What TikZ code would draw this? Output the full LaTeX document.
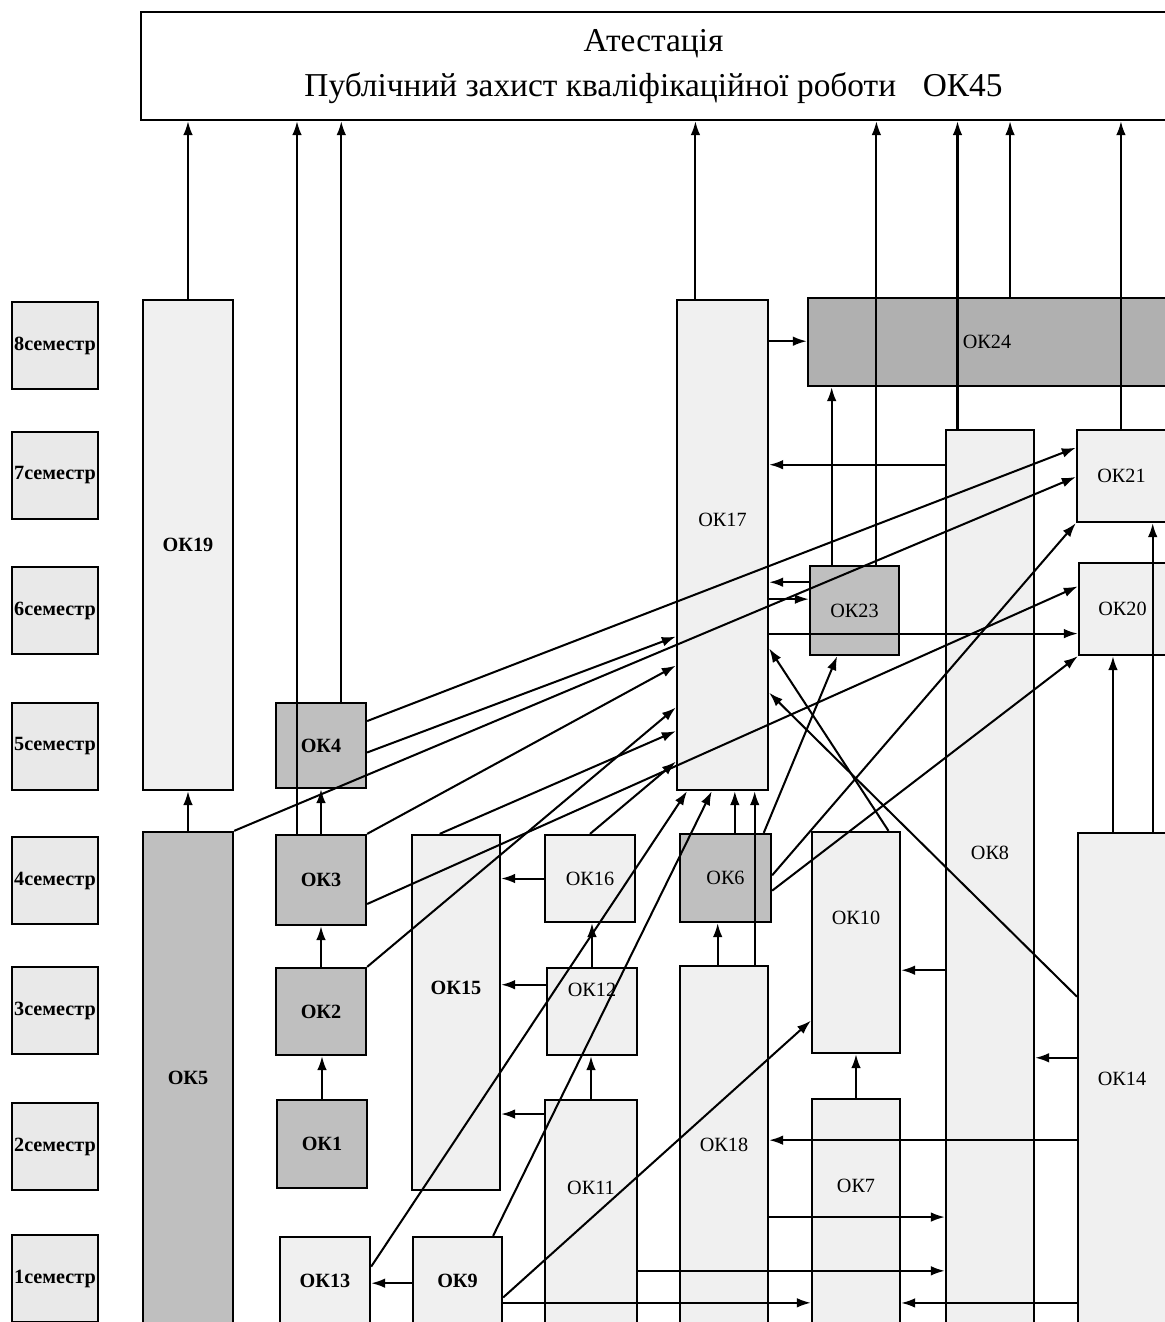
\documentclass[tikz,border=0pt]{standalone}
\usepackage{fontspec}
\setmainfont{Liberation Serif}
\usetikzlibrary{arrows.meta,calc,fit}

\begin{document}
\begin{tikzpicture}[
  x=0.02cm, y=-0.02cm,
  font=\fontsize{11}{13}\selectfont,
  >={Latex[length=8pt,width=5.5pt]},
  box/.style={draw, line width=1.3pt, inner sep=0pt, fill=gray!12},
  dark/.style={box, fill=gray!50},
  darker/.style={box, fill=gray!62},
  sem/.style={box, fill=gray!17},
  bl/.style={inner sep=0pt, font=\fontsize{11.5}{13}\selectfont\bfseries},
  nl/.style={inner sep=0pt, font=\fontsize{11.5}{13}\selectfont},
  ttl/.style={inner sep=0pt, font=\fontsize{19}{23}\selectfont},
  arr/.style={->, line width=1.15pt}
]
\useasboundingbox (0,0) rectangle (1164,1322);

% attestation
\node[box, fill=white, fit={(141,12) (1166,120)},
  label={[ttl,yshift=.45cm]center:Атестація},
  label={[ttl,yshift=-.45cm]center:Публічний захист кваліфікаційної роботи\hskip.8em ОК45}] (top) {};

% semesters
\foreach \i/\y in {8/302, 7/432, 6/567, 5/703, 4/837, 3/967, 2/1103, 1/1235}
  \node[sem, fit={(12,\y) (98,\y+87)}, label={[bl]center:\i семестр}] (sem\i) {};

% components
\node[box, fit={(143,300) (233,790)}, label={[bl]center:ОК19}] (ok19) {};
\node[dark, fit={(143,832) (233,1324)}, label={[bl]center:ОК5}] (ok5) {};
\node[dark, fit={(276,703) (366,788)}, label={[bl]center:ОК4}] (ok4) {};
\node[dark, fit={(276,835) (366,925)}, label={[bl]center:ОК3}] (ok3) {};
\node[dark, fit={(276,968) (366,1055)}, label={[bl]center:ОК2}] (ok2) {};
\node[dark, fit={(277,1100) (367,1188)}, label={[bl]center:ОК1}] (ok1) {};
\node[box, fit={(280,1237) (370,1324)}, label={[bl]center:ОК13}] (ok13) {};
\node[box, fit={(412,835) (500,1190)}, label={[bl,yshift=.49cm]center:ОК15}] (ok15) {};
\node[box, fit={(413,1237) (502,1324)}, label={[bl]center:ОК9}] (ok9) {};
\node[box, fit={(545,835) (635,922)}, label={[nl]center:ОК16}] (ok16) {};
\node[box, fit={(547,968) (637,1055)}, label={[nl,yshift=.43cm]center:ОК12}] (ok12) {};
\node[box, fit={(545,1100) (637,1324)}, label={[nl,yshift=.48cm]center:ОК11}] (ok11) {};
\node[box, fit={(677,300) (768,790)}, label={[nl,yshift=.5cm]center:ОК17}] (ok17) {};
\node[dark, fit={(680,834) (771,922)}, label={[nl]center:ОК6}] (ok6) {};
\node[box, fit={(680,966) (768,1324)}, label={[nl]center:ОК18}] (ok18) {};
\node[darker, fit={(808,298) (1166,386)}, label={[nl]center:ОК24}] (ok24) {};
\node[dark, fit={(810,566) (899,655)}, label={[nl]center:ОК23}] (ok23) {};
\node[box, fit={(812,832) (900,1053)}, label={[nl,yshift=.49cm]center:ОК10}] (ok10) {};
\node[box, fit={(812,1099) (900,1324)}, label={[nl,yshift=.51cm]center:ОК7}] (ok7) {};
\node[box, fit={(946,430) (1034,1324)}, label={[nl,yshift=.48cm]center:ОК8}] (ok8) {};
\node[box, fit={(1077,430) (1166,522)}, label={[nl]center:ОК21}] (ok21) {};
\node[box, fit={(1079,563) (1166,655)}, label={[nl]center:ОК20}] (ok20) {};
\node[box, fit={(1078,833) (1166,1324)}, label={[nl]center:ОК14}] (ok14) {};

% up to the attestation
\foreach \n/\f in {ok19/.5, ok3/.24, ok4/.72, ok17/.21, ok23/.74, ok8/.14, ok24/.564, ok21/.494}
  \draw[arr] ($(\n.north west)!\f!(\n.north east)$) coordinate (p) -- (p |- top.south);

% straight up
\foreach \a/\b in {ok5/ok19, ok3/ok4, ok2/ok3, ok1/ok2, ok11/ok12, ok12/ok16, ok7/ok10}
  \draw[arr] (\a.north) -- (\a.north |- \b.south);
\draw[arr] ($(ok18.north west)!.43!(ok18.north east)$) coordinate (p) -- (p |- ok6.south);
\draw[arr] ($(ok18.north west)!.84!(ok18.north east)$) coordinate (p) -- (p |- ok17.south);
\draw[arr] ($(ok6.north west)!.6!(ok6.north east)$) coordinate (p) -- (p |- ok17.south);
\draw[arr] ($(ok23.north west)!.25!(ok23.north east)$) coordinate (p) -- (p |- ok24.south);
\draw[arr] ($(ok14.north west)!.4!(ok14.north east)$) coordinate (p) -- (p |- ok20.south);
\draw[arr] ($(ok14.north west)!.84!(ok14.north east)$) coordinate (p) -- (p |- ok21.south);

% across
\draw[arr] ($(ok17.north east)!.086!(ok17.south east)$) coordinate (p) -- (p -| ok24.west);
\draw[arr] ($(ok8.north west)!.04!(ok8.south west)$) coordinate (p) -- (p -| ok17.east);
\draw[arr] ($(ok23.north west)!.19!(ok23.south west)$) coordinate (p) -- (p -| ok17.east);
\draw[arr] ($(ok17.north east)!.61!(ok17.south east)$) coordinate (p) -- (p -| ok23.west);
\draw[arr] ($(ok17.north east)!.68!(ok17.south east)$) coordinate (p) -- (p -| ok20.west);
\draw[arr] (ok16.west) -- (ok16.west -| ok15.east);
\draw[arr] ($(ok12.north west)!.2!(ok12.south west)$) coordinate (p) -- (p -| ok15.east);
\draw[arr] ($(ok11.north west)!.067!(ok11.south west)$) coordinate (p) -- (p -| ok15.east);
\draw[arr] ($(ok9.north west)!.53!(ok9.south west)$) coordinate (p) -- (p -| ok13.east);
\draw[arr] ($(ok9.north east)!.75!(ok9.south east)$) coordinate (p) -- (p -| ok7.west);
\draw[arr] ($(ok11.north east)!.76!(ok11.south east)$) coordinate (p) -- (p -| ok8.west);
\draw[arr] ($(ok18.north east)!.7!(ok18.south east)$) coordinate (p) -- (p -| ok8.west);
\draw[arr] ($(ok14.north west)!.625!(ok14.south west)$) coordinate (p) -- (p -| ok18.east);
\draw[arr] ($(ok14.north west)!.955!(ok14.south west)$) coordinate (p) -- (p -| ok7.east);
\draw[arr] ($(ok8.north west)!.604!(ok8.south west)$) coordinate (p) -- (p -| ok10.east);
\draw[arr] ($(ok14.north west)!.458!(ok14.south west)$) coordinate (p) -- (p -| ok8.east);

% slanted
\draw[arr] ($(ok4.north east)!.22!(ok4.south east)$) -- ($(ok21.north west)!.2!(ok21.south west)$);
\draw[arr] ($(ok4.north east)!.58!(ok4.south east)$) -- ($(ok17.north west)!.686!(ok17.south west)$);
\draw[arr] (ok5.north east) -- ($(ok21.north west)!.51!(ok21.south west)$);
\draw[arr] (ok3.north east) -- ($(ok17.north west)!.745!(ok17.south west)$);
\draw[arr] ($(ok3.north east)!.76!(ok3.south east)$) -- ($(ok20.north west)!.26!(ok20.south west)$);
\draw[arr] (ok2.north east) -- ($(ok17.north west)!.83!(ok17.south west)$);
\draw[arr] ($(ok15.north west)!.32!(ok15.north east)$) -- ($(ok17.north west)!.878!(ok17.south west)$);
\draw[arr] (ok16.north) -- ($(ok17.north west)!.94!(ok17.south west)$);
\draw[arr] ($(ok13.north east)!.345!(ok13.south east)$) -- ($(ok17.south west)!.12!(ok17.south east)$);
\draw[arr] ($(ok9.north west)!.89!(ok9.north east)$) -- ($(ok17.south west)!.385!(ok17.south east)$);
\draw[arr] ($(ok6.north west)!.91!(ok6.north east)$) -- ($(ok23.south west)!.31!(ok23.south east)$);
\draw[arr] ($(ok6.north east)!.47!(ok6.south east)$) -- (ok21.south west);
\draw[arr] ($(ok6.north east)!.64!(ok6.south east)$) -- (ok20.south west);
\draw[arr] ($(ok9.north east)!.69!(ok9.south east)$) -- ($(ok10.north west)!.85!(ok10.south west)$);
\draw[arr] ($(ok10.north west)!.86!(ok10.north east)$) -- ($(ok17.north east)!.71!(ok17.south east)$);
\draw[arr] ($(ok14.north west)!.334!(ok14.south west)$) -- ($(ok17.north east)!.8!(ok17.south east)$);

\end{tikzpicture}
\end{document}
